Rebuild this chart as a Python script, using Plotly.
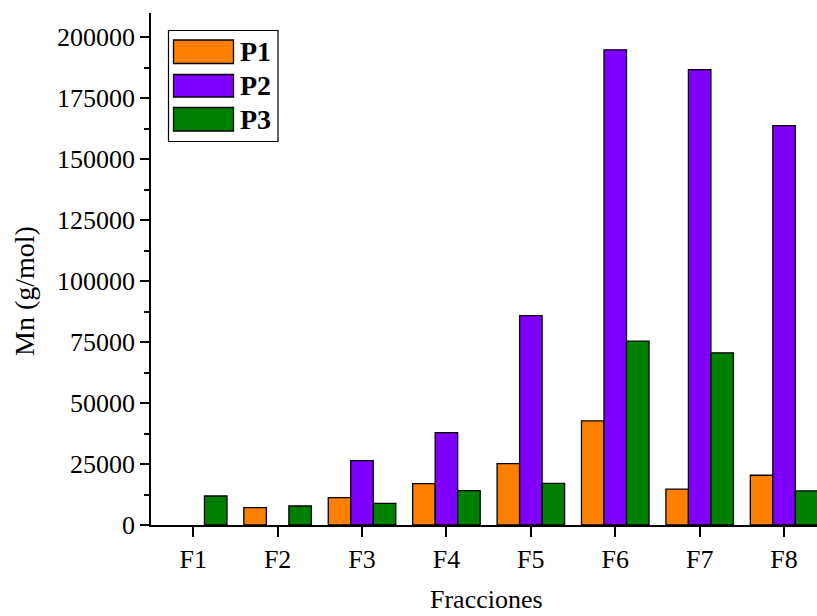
import plotly.graph_objects as go

# Number-average molecular weight per fraction
fracciones = ["F1", "F2", "F3", "F4", "F5", "F6", "F7", "F8"]
p1 = [None, 7100, 11200, 17000, 25200, 42700, 14700, 20400]
p2 = [None, None, 26400, 37900, 85900, 194900, 186800, 163800]
p3 = [11900, 7800, 8900, 14100, 17100, 75400, 70600, 14000]

series_names = ["P1", "P2", "P3"]
series_colors = ["#FF8000", "#8000FF", "#008000"]

W, H = 817, 616
ML, MR, MT, MB = 151, 0, 13, 91
FONT = "Liberation Serif"
X_RANGE = [-0.5, 7.39]
Y_RANGE = [0, 210000]

pw, ph = W - ML - MR, H - MT - MB


def px(x):
    return (x - ML) / pw


def py(y):
    return (H - MB - y) / ph


fig = go.Figure()
for name, vals, col in zip(series_names, [p1, p2, p3], series_colors):
    fig.add_trace(go.Bar(
        x=fracciones, y=vals, name=name,
        marker=dict(color=col, line=dict(color="black", width=1.3)),
        showlegend=False,
    ))

axis_font = dict(family=FONT, size=26, color="black")

fig.update_layout(
    width=W, height=H,
    margin=dict(l=ML, r=MR, t=MT, b=MB),
    paper_bgcolor="white", plot_bgcolor="white",
    barmode="group", bargap=0.2, bargroupgap=0,
    font=dict(family=FONT, color="black"),
    xaxis=dict(
        type="category", range=X_RANGE, showgrid=False, zeroline=False,
        showline=True, linecolor="black", linewidth=1.6,
        ticks="outside", ticklen=10, tickwidth=1.6, tickcolor="black",
        tickfont=axis_font,
    ),
    # minor ticks on the bottom axis at category boundaries
    xaxis3=dict(
        overlaying="x", anchor="y", side="bottom", range=X_RANGE,
        showgrid=False, zeroline=False, showline=False, showticklabels=False,
        tickmode="array", tickvals=[i + 0.5 for i in range(8)],
        ticks="outside", ticklen=5, tickwidth=1.6, tickcolor="black",
    ),
    # top frame line with inward ticks
    xaxis2=dict(
        overlaying="x", anchor="y", side="top", range=X_RANGE,
        showgrid=False, zeroline=False, showline=True, linecolor="black",
        linewidth=1.6, showticklabels=False,
        tickmode="array", tickvals=list(range(8)),
        ticks="inside", ticklen=10, tickwidth=1.6, tickcolor="black",
        minor=dict(tickmode="array", tickvals=[i + 0.5 for i in range(8)],
                   ticks="inside", ticklen=5, tickwidth=1.6, tickcolor="black"),
    ),
    yaxis=dict(
        range=Y_RANGE, showgrid=False, zeroline=False,
        showline=True, linecolor="black", linewidth=1.6,
        tickmode="linear", tick0=0, dtick=25000,
        ticks="outside", ticklen=9, tickwidth=1.6, tickcolor="black",
        minor=dict(dtick=12500, ticks="outside", ticklen=5, tickwidth=1.6,
                   tickcolor="black"),
        tickfont=axis_font, tickformat="d",
    ),
)

# axis titles
fig.add_annotation(text="Mn (g/mol)", xref="paper", yref="paper",
                   x=px(24), y=py(291), showarrow=False, textangle=-90,
                   font=dict(family=FONT, size=28, color="black"),
                   xanchor="center", yanchor="middle")
fig.add_annotation(text="Fracciones", xref="paper", yref="paper",
                   x=px(487), y=py(615), showarrow=False,
                   font=dict(family=FONT, size=26, color="black"),
                   xanchor="center", yanchor="bottom", borderpad=0)

# legend box
fig.add_shape(type="rect", xref="paper", yref="paper",
              x0=px(168.5), x1=px(278), y0=py(141.5), y1=py(30.5),
              line=dict(color="black", width=1.2), fillcolor="white")
rows = [(40, 63.5), (74.5, 97), (107.5, 131)]
for (t, b), name, col in zip(rows, series_names, series_colors):
    fig.add_shape(type="rect", xref="paper", yref="paper",
                  x0=px(173.5), x1=px(233.5), y0=py(b), y1=py(t),
                  line=dict(color="black", width=1.3), fillcolor=col)
    fig.add_annotation(text="<b>%s</b>" % name, xref="paper", yref="paper",
                       x=px(238), y=py((t + b) / 2), showarrow=False,
                       xanchor="left", yanchor="middle",
                       font=dict(family=FONT, size=28, color="black"))

fig.write_html("out.html")
